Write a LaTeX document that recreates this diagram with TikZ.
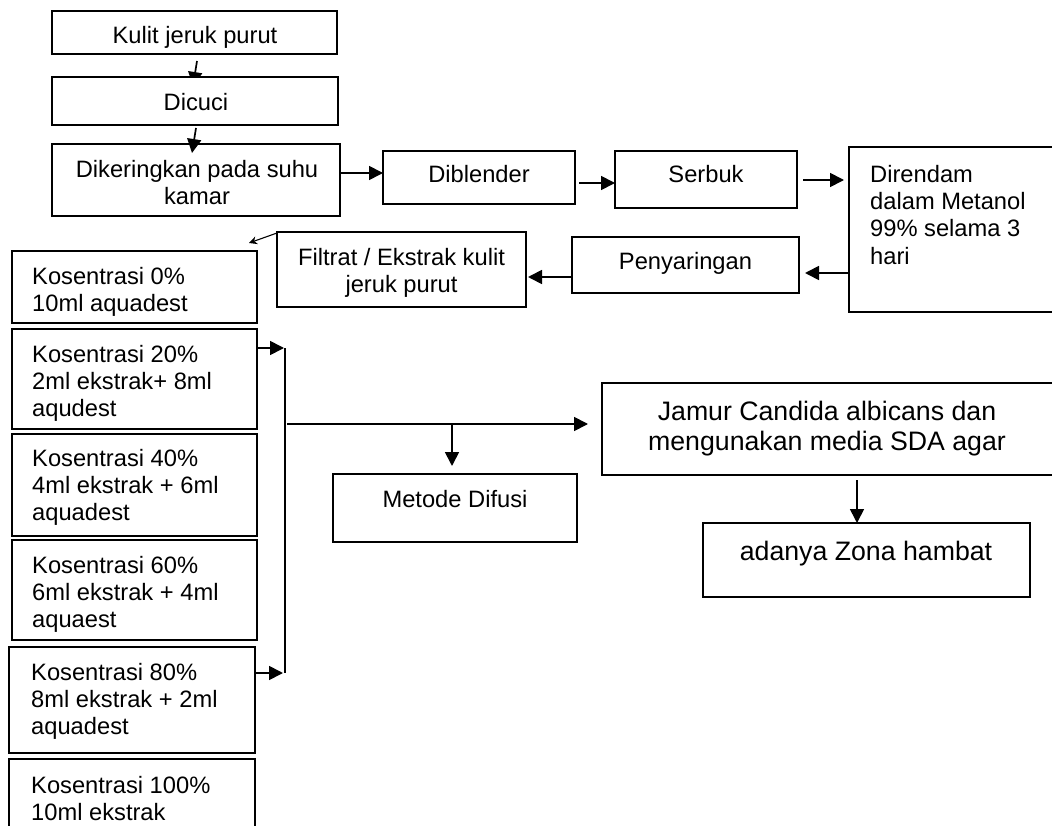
\documentclass[tikz,border=0pt]{standalone}
\usepackage{fontspec}
\setmainfont{Liberation Sans}
\usetikzlibrary{arrows.meta,calc}
\pgfdeclarelayer{bg}
\pgfsetlayers{bg,main}
\begin{document}
\begin{tikzpicture}[x=1pt,y=-1pt,
  box/.style={draw, line width=1.7pt, fill=white, inner sep=0pt, outer sep=0pt, anchor=north west},
  txt/.style={inner sep=0pt, font=\fontsize{23.7}{27.3}\selectfont},
  big/.style={inner sep=0pt, font=\fontsize{26.7}{30.7}\selectfont},
  arr/.style={line width=1.7pt, -{Triangle[length=14pt,width=14pt]}},
  ln/.style={line width=1.7pt},
  thinarr/.style={line width=1.1pt, -{Stealth[length=8pt,width=8pt]}}]
\useasboundingbox (0,0) rectangle (1052,826);
\clip (0,0) rectangle (1052,826);

% boxes
\node[box, minimum width=285pt, minimum height=43pt] (kulit) at (52,11) {};
\node[box, minimum width=286pt, minimum height=48pt] (dicuci) at (52,77) {};
\node[box, minimum width=288pt, minimum height=72pt] (dikering) at (52,144) {};
\node[box, minimum width=192pt, minimum height=53pt] (diblender) at (383,151) {};
\node[box, minimum width=182pt, minimum height=57pt] (serbuk) at (615,151) {};
\node[box, minimum width=221pt, minimum height=165pt] (direndam) at (849,147) {};
\node[box, minimum width=227pt, minimum height=56pt] (penyaring) at (572,237) {};
\node[box, minimum width=249pt, minimum height=75pt] (filtrat) at (277,232) {};
\node[box, minimum width=245pt, minimum height=72pt] (k0) at (12,251) {};
\node[box, minimum width=245pt, minimum height=100pt] (k20) at (12,329) {};
\node[box, minimum width=245pt, minimum height=102pt] (k40) at (12,434) {};
\node[box, minimum width=245pt, minimum height=100pt] (k60) at (12,540) {};
\node[box, minimum width=246pt, minimum height=106pt] (k80) at (9,647) {};
\node[box, minimum width=246pt, minimum height=91pt] (k100) at (9,759) {};
\node[box, minimum width=244pt, minimum height=68pt] (metode) at (333,474) {};
\node[box, minimum width=451pt, minimum height=92pt] (jamur) at (602,383) {};
\node[box, minimum width=327pt, minimum height=74pt] (zona) at (703,523) {};

% texts
\node[txt, anchor=base] (tkulit) at (195,44) {Kulit jeruk purut};
\node[txt, anchor=base] (tdicuci) at (196,111) {Dicuci};
\node[txt, anchor=north, align=center] (tdikering) at (197,157.9) {\strut Dikeringkan pada suhu\\kamar};
\node[txt, anchor=base] (tdiblender) at (479,183) {Diblender};
\node[txt, anchor=base] (tserbuk) at (706,183) {Serbuk};
\node[txt, anchor=north west, align=left] (tdirendam) at (870,162.9) {\strut Direndam\\dalam Metanol\\99\% selama 3\\hari};
\node[txt, anchor=base] (tpenyaring) at (685.5,270) {Penyaringan};
\node[txt, anchor=north, align=center] (tfiltrat) at (401.5,245.9) {\strut Filtrat / Ekstrak kulit\\jeruk purut};
\node[txt, anchor=north west, align=left] (tk0) at (32,264.9) {\strut Kosentrasi 0\%\\10ml aquadest};
\node[txt, anchor=north west, align=left] (tk20) at (32,342.9) {\strut Kosentrasi 20\%\\2ml ekstrak+ 8ml\\aqudest};
\node[txt, anchor=north west, align=left] (tk40) at (32,446.9) {\strut Kosentrasi 40\%\\4ml ekstrak + 6ml\\aquadest};
\node[txt, anchor=north west, align=left] (tk60) at (32,553.9) {\strut Kosentrasi 60\%\\6ml ekstrak + 4ml\\aquaest};
\node[txt, anchor=north west, align=left] (tk80) at (31,660.9) {\strut Kosentrasi 80\%\\8ml ekstrak + 2ml\\aquadest};
\node[txt, anchor=north west, align=left] (tk100) at (31,773.9) {\strut Kosentrasi 100\%\\10ml ekstrak};
\node[txt, anchor=base] (tmetode) at (455,507) {Metode Difusi};
\node[big, anchor=north, align=center] (tjamur) at (827,398.5) {\strut Jamur Candida albicans dan\\mengunakan media SDA agar};
\node[big, anchor=base] (tzona) at (866,560) {adanya Zona hambat};

% connectors
\begin{pgfonlayer}{bg}
\fill[white] (0,0) rectangle (1052,826);
\draw[arr] ($(kulit.south)+(2.5,7)$) -- ($(dicuci.north)+(-2,9)$);
\end{pgfonlayer}
\draw[arr] ($(dicuci.south)+(1,3)$) -- ($(dikering.north)+(-4,9)$);
\draw[arr] ($(dikering.east)+(-1,-7)$) coordinate (a3) -- (a3 -| diblender.west);
\draw[arr] ($(diblender.east)+(4,5.5)$) coordinate (a4) -- (a4 -| serbuk.west);
\draw[arr] ($(serbuk.east)+(6,0.5)$) coordinate (a5) -- ($(a5 -| direndam.west)+(-5,0)$);
\draw[arr] ($(direndam.west)+(0,43.5)$) coordinate (a6) -- ($(a6 -| penyaring.east)+(6,0)$);
\draw[arr] ($(penyaring.west)+(0,12)$) coordinate (a7) -- ($(a7 -| filtrat.east)+(2,0)$);
\draw[thinarr] ($(filtrat.north west)+(0,1)$) -- ($(k0.north east)+(-8,-8)$);

\coordinate (btop) at (285,348);
\coordinate (bbot) at (285,673);
\draw[ln] (btop) -- (bbot);
\draw[arr] (k20.east |- btop) -- ($(btop)+(-1,0)$);
\draw[arr] (k80.east |- bbot) -- ($(bbot)+(-2,0)$);
\coordinate (hs) at (287,424);
\coordinate (hm) at (452,424);
\draw[arr] (hs) -- ($(hs -| jamur.west)+(-14,0)$);
\draw[arr] (hm) -- ($(hm |- metode.north)+(0,-8)$);
\draw[arr] ($(jamur.south)+(29.5,5)$) coordinate (a12) -- (a12 |- zona.north);
\end{tikzpicture}
\end{document}
